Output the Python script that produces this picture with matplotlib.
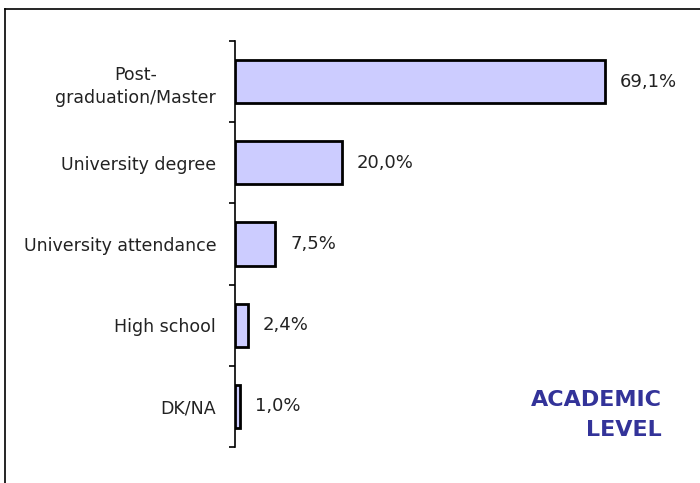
import matplotlib.pyplot as plt
from matplotlib.lines import Line2D

categories = ["Post-\ngraduation/Master", "University degree", "University attendance", "High school", "DK/NA"]
values = [69.1, 20.0, 7.5, 2.4, 1.0]
value_labels = ["69,1%", "20,0%", "7,5%", "2,4%", "1,0%"]

fig = plt.figure(figsize=(7, 4.83), dpi=100)
W, H = 700, 483
# axes in pixel coordinates: left 235, top 41, bottom 447
ax = fig.add_axes([235 / W, (H - 447) / H, (660 - 235) / W, (447 - 41) / H])

pos = list(range(len(categories)))
ax.barh(pos, values, height=0.53, color="#ccccff", edgecolor="black", linewidth=2)
ax.set_ylim(len(categories) - 0.5, -0.5)
ax.set_xlim(0, (660 - 235) / (370 / 69.1))

for p, v, lab in zip(pos, values, value_labels):
    ax.text(v + 2.8, p, lab, va="center", ha="left", fontsize=13, color="#222222")

ax.set_yticks(pos)
ax.set_yticklabels(categories, fontsize=12.5, color="#222222", multialignment="center",
                   linespacing=1.4)
ax.tick_params(axis="y", which="major", length=0, pad=13.5)
ax.set_yticks([p - 0.5 for p in pos] + [len(pos) - 0.5], minor=True)
ax.tick_params(axis="y", which="minor", length=4, width=1.2, direction="out")
ax.set_xticks([])
for s in ["top", "right", "bottom"]:
    ax.spines[s].set_visible(False)
ax.spines["left"].set_linewidth(1.2)

fig.text(662 / W, 1 - 400 / H, "ACADEMIC", ha="right", va="center", fontsize=16,
         fontweight="bold", color="#333399")
fig.text(662 / W, 1 - 430 / H, "LEVEL", ha="right", va="center", fontsize=16,
         fontweight="bold", color="#333399")

# frame lines (top and left)
fig.add_artist(Line2D([5 / W, 1.0], [1 - 9 / H, 1 - 9 / H], color="black", linewidth=1.2,
                      transform=fig.transFigure))
fig.add_artist(Line2D([5 / W, 5 / W], [0, 1 - 9 / H], color="black", linewidth=1.2,
                      transform=fig.transFigure))

fig.savefig("out.png", dpi=100)
